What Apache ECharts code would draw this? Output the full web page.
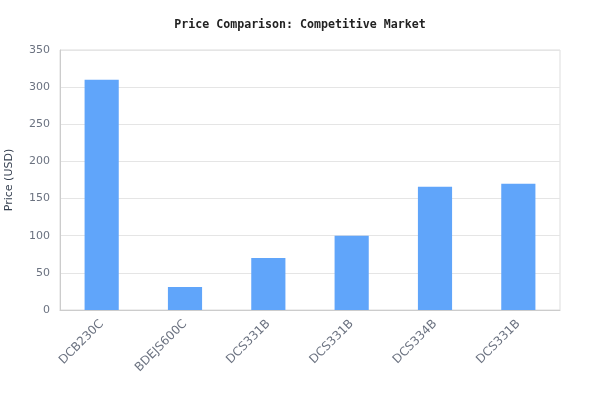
<!DOCTYPE html>
<html><head><meta charset="utf-8">
<script src="https://cdn.jsdelivr.net/npm/echarts@6/dist/echarts.min.js"></script>
<style>html,body{margin:0;padding:0;background:#fff}#c{width:600px;height:420px}</style>
</head><body><div id="c"></div>
<script>
var categories = ['DCB230C','BDEJS600C','DCS331B','DCS331B','DCS334B','DCS331B'];
var prices = [310, 31, 70, 100, 166, 170];
var yTicks = [0, 50, 100, 150, 200, 250, 300, 350];

var chart = echarts.init(document.getElementById('c'), null, {renderer:'canvas'});
chart.setOption({
  animation: false,
  backgroundColor: '#ffffff',
  title: {
    text: 'Price Comparison: Competitive Market',
    left: 'center', top: 14,
    textStyle: {fontFamily: 'DejaVu Sans Mono', fontWeight: 'bold', fontSize: 11.6, color: '#222222'}
  },
  grid: {left: 60, right: 40, top: 50, bottom: 110, show: true, borderColor: '#dddddd', borderWidth: 1,
         containLabel: false, outerBoundsMode: 'none'},
  xAxis: {
    type: 'category', data: categories,
    axisLine: {lineStyle: {color: '#cccccc'}},
    axisTick: {show: false},
    axisLabel: {rotate: 45, color: '#6b7280', fontSize: 12, fontFamily: 'DejaVu Sans', margin: 12, interval: 0}
  },
  yAxis: {
    type: 'value', min: yTicks[0], max: yTicks[yTicks.length-1], interval: 50,
    name: 'Price (USD)', nameLocation: 'middle', nameGap: 45,
    nameTextStyle: {color: '#374151', fontSize: 11, fontFamily: 'DejaVu Sans'},
    axisLine: {show: true, lineStyle: {color: '#cccccc'}},
    axisTick: {show: false},
    axisLabel: {color: '#6b7280', fontSize: 11, fontFamily: 'DejaVu Sans', margin: 10},
    splitLine: {lineStyle: {color: '#e5e5e5'}}
  },
  series: [{
    type: 'bar', data: prices, barWidth: '41%',
    itemStyle: {color: '#60a5fa'}
  }]
});
</script></body></html>
